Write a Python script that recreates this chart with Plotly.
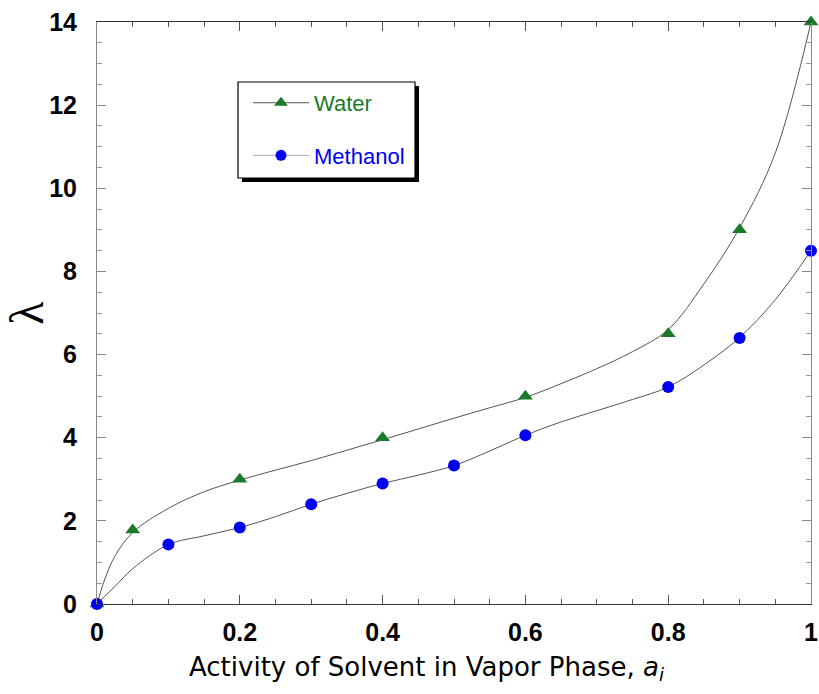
import plotly.graph_objects as go

# Measured points
water_x = [0.0, 0.05, 0.2, 0.4, 0.6, 0.8, 0.9, 1.0]
water_y = [0.0, 1.78, 3.0, 4.0, 5.0, 6.5, 9.0, 14.0]
meth_x = [0.0, 0.1, 0.2, 0.3, 0.4, 0.5, 0.6, 0.8, 0.9, 1.0]
meth_y = [0.0, 1.43, 1.84, 2.4, 2.9, 3.33, 4.06, 5.22, 6.4, 8.5]

# Fitted curves
water_fit_x = [0.0, 0.01, 0.025, 0.05, 0.1, 0.15, 0.2, 0.25, 0.3, 0.35, 0.4, 0.45, 0.5, 0.55, 0.6,
               0.65, 0.7, 0.75, 0.8, 0.85, 0.9, 0.95, 1.0]
water_fit_y = [0.0, 0.55, 1.15, 1.72, 2.3, 2.7, 2.98, 3.22, 3.45, 3.7, 3.95, 4.21, 4.47, 4.72, 4.97,
               5.3, 5.66, 6.07, 6.6, 7.7, 9.05, 10.85, 14.0]
meth_fit_x = [0.0, 0.01, 0.025, 0.05, 0.1, 0.15, 0.2, 0.25, 0.3, 0.35, 0.4, 0.45, 0.5, 0.55, 0.6,
              0.65, 0.7, 0.75, 0.8, 0.85, 0.9, 0.95, 1.0]
meth_fit_y = [0.0, 0.17, 0.42, 0.85, 1.43, 1.64, 1.84, 2.1, 2.4, 2.66, 2.9, 3.1, 3.33, 3.68, 4.06,
              4.38, 4.65, 4.92, 5.22, 5.75, 6.41, 7.32, 8.5]

GREEN = "#1a7a2a"
BLUE = "#0000f0"
LINE = "#555555"

fig = go.Figure()
fig.add_trace(go.Scatter(x=water_fit_x, y=water_fit_y, mode="lines", line=dict(color=LINE, width=1, shape="spline", smoothing=1.0),
                         showlegend=False, hoverinfo="skip"))
fig.add_trace(go.Scatter(x=meth_fit_x, y=meth_fit_y, mode="lines", line=dict(color=LINE, width=1, shape="spline", smoothing=1.0),
                         showlegend=False, hoverinfo="skip"))
fig.add_trace(go.Scatter(x=water_x, y=water_y, mode="markers", cliponaxis=False,
                         marker=dict(symbol="triangle-up", size=13, color=GREEN), showlegend=False))
fig.add_trace(go.Scatter(x=meth_x, y=meth_y, mode="markers", cliponaxis=False,
                         marker=dict(symbol="circle", size=12, color=BLUE), showlegend=False))
# legend entries
fig.add_trace(go.Scatter(x=[None], y=[None], mode="lines+markers", name=f"<span style='color:{GREEN}'>Water</span>",
                         line=dict(color=LINE, width=1), marker=dict(symbol="triangle-up", size=12, color=GREEN),
                         legendgroup="a"))
fig.add_trace(go.Scatter(x=[None], y=[None], mode="lines+markers", name=f"<span style='color:{BLUE}'>Methanol</span>",
                         line=dict(color="#aaaaaa", width=1), marker=dict(symbol="circle", size=11, color=BLUE),
                         legendgroup="b"))

tickfont = dict(family="Arial", size=25, color="black", weight="bold")

fig.update_xaxes(range=[0, 1], dtick=0.2, tick0=0, automargin=False,
                 showline=True, linecolor="#333333", linewidth=1, mirror="ticks", ticks="inside",
                 ticklen=9, tickcolor="#555555", showgrid=False, zeroline=False, tickfont=tickfont,
                 ticklabelstandoff=6,
                 minor=dict(dtick=0.05, ticks="inside", ticklen=5, tickcolor="#555555"))
fig.update_yaxes(range=[0, 14], dtick=2, tick0=0, automargin=False,
                 showline=True, linecolor="#888888", linewidth=1, mirror="ticks", ticks="inside",
                 ticklen=9, tickcolor="#888888", showgrid=False, zeroline=False, tickfont=tickfont,
                 ticklabelstandoff=14,
                 minor=dict(dtick=0.5, ticks="inside", ticklen=5, tickcolor="#999999"),
                 title=dict(text="λ", font=dict(family="Liberation Serif", size=48, color="black"), standoff=14))

# x-axis title as an annotation (reference title is off-centre)
fig.add_annotation(xref="paper", yref="paper", x=0.461, y=-0.110, xanchor="center", yanchor="middle",
                   text="Activity of Solvent in Vapor Phase, <i>a</i><sub><i>i</i></sub>", showarrow=False,
                   font=dict(family="DejaVu Sans", size=26, color="black"))

# legend frame and shadow (pixel -> paper fractions of the plot area)
fig.add_shape(type="rect", xref="paper", yref="paper", x0=0.2031, x1=0.4510, y0=0.7251, y1=0.8900,
              fillcolor="black", line=dict(width=0), layer="above")
fig.add_shape(type="rect", xref="paper", yref="paper", x0=0.1975, x1=0.4454, y0=0.7320, y1=0.8969,
              fillcolor="white", line=dict(color="black", width=1.2), layer="above")

fig.update_layout(
    width=819, height=694,
    margin=dict(l=97, r=8, t=22, b=90),
    paper_bgcolor="white", plot_bgcolor="white",
    showlegend=True,
    legend=dict(x=0.2115, y=0.897, xanchor="left", yanchor="top",
                bgcolor="rgba(0,0,0,0)", borderwidth=0,
                font=dict(family="Arial", size=22), tracegroupgap=21, traceorder="grouped",
                itemwidth=56),
)

fig.write_html("out.html")
